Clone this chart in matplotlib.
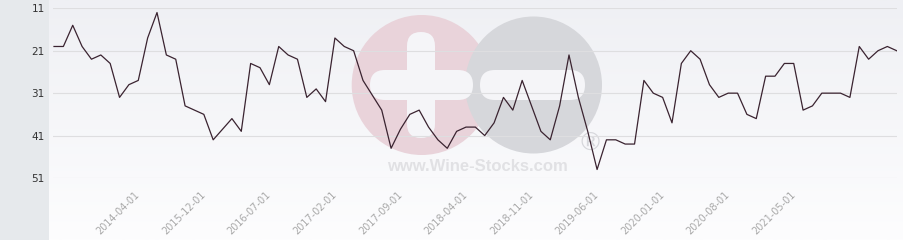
import numpy as np
import matplotlib
matplotlib.use("Agg")
import matplotlib.pyplot as plt
from matplotlib.patches import Circle, FancyBboxPatch, Rectangle

# rank values, one per period
ranks = [20, 20, 15, 20, 23, 22, 24, 32, 29, 28,
         18, 12, 22, 23, 34, 35, 36, 42, 39.5, 37,
         40, 24, 25, 29, 20, 22, 23, 32, 30, 33,
         18, 20, 21, 28, 31.5, 35, 44, 39.5, 36, 35,
         39, 42, 44, 40, 39, 39, 41, 38, 32, 35,
         28, 34, 40, 42, 34, 22, 32, 40, 49, 42,
         42, 43, 43, 28, 31, 32, 38, 24, 21, 23,
         29, 32, 31, 31, 36, 37, 27, 27, 24, 24,
         35, 34, 31, 31, 31, 32, 20, 23, 21, 20, 21]
tick_pos = [9, 16, 23, 30, 37, 44, 51, 58, 65, 72, 79]
tick_labels = ["2014-04-01", "2015-12-01", "2016-07-01", "2017-02-01",
               "2017-09-01", "2018-04-01", "2018-11-01", "2019-06-01",
               "2020-01-01", "2020-08-01", "2021-05-01"]
y_ticks = [11, 21, 31, 41, 51]

W, H = 904, 240
fig = plt.figure(figsize=(W / 100, H / 100), dpi=100)
fig.patch.set_facecolor("white")

# left grey panel
fig.patches.append(Rectangle((0, 0), 49 / W, 1, transform=fig.transFigure,
                             facecolor="#e6e9ec", edgecolor="none", zorder=0))

# plot background gradient
bg = fig.add_axes([49 / W, 0, 1 - 49 / W, 1], zorder=0)
grad = np.linspace(0, 1, 100).reshape(-1, 1)
top = np.array([239, 240, 244]) / 255
bot = np.array([253, 253, 254]) / 255
img = top + (bot - top) * grad[:, :, None]
bg.imshow(img, aspect="auto", extent=[0, 1, 0, 1], origin="upper")
bg.axis("off")

# watermark logo in pixel coords
wm = fig.add_axes([0, 0, 1, 1], zorder=1)
wm.set_xlim(0, W)
wm.set_ylim(H, 0)
wm.axis("off")
wm.patch.set_alpha(0)
wm.add_patch(Circle((421.7, 85), 70, facecolor="#e9d3da", edgecolor="none"))
wm.add_patch(Circle((533.5, 85), 68.5, facecolor="#d6d7db", edgecolor="none"))
hole = "#f5f5f8"
wm.add_patch(FancyBboxPatch((407, 32), 28, 106, boxstyle="round,pad=0,rounding_size=14",
                            facecolor=hole, edgecolor="none"))
wm.add_patch(FancyBboxPatch((370, 70), 103, 30, boxstyle="round,pad=0,rounding_size=15",
                            facecolor=hole, edgecolor="none"))
wm.add_patch(FancyBboxPatch((480, 70), 105, 30, boxstyle="round,pad=0,rounding_size=15",
                            facecolor=hole, edgecolor="none"))
wm.text(477.5, 166.5, "www.Wine-Stocks.com", fontsize=12, fontweight="bold",
        family="Liberation Sans", color="#e1e1e4", ha="center", va="center")
wm.text(590, 144, "\u00ae", fontsize=18, color="#d6d7db", ha="center", va="center")

# main chart
ax = fig.add_axes([53 / W, (H - 178) / H, 844 / W, (178 - 8.3) / H], zorder=2)
ax.patch.set_alpha(0)
x = np.arange(len(ranks))
ax.plot(x, ranks, color="#3a2330", lw=0.9, zorder=3)
ax.set_xlim(-0.107, 90.03)
ax.set_ylim(51, 11)
ax.set_yticks(y_ticks)
ax.set_yticklabels([str(v) for v in y_ticks], fontsize=7.5, color="#333333")
ax.grid(axis="y", color="#dedee0", lw=0.8)
ax.set_xticks(tick_pos)
ax.set_xticklabels(tick_labels, rotation=45, ha="right", va="center",
                   rotation_mode="anchor", fontsize=7, color="#a8a8a8")
ax.tick_params(axis="y", length=0, pad=6)
ax.tick_params(axis="x", length=0, pad=11)
for s in ax.spines.values():
    s.set_visible(False)

fig.savefig("out.png", dpi=100)
